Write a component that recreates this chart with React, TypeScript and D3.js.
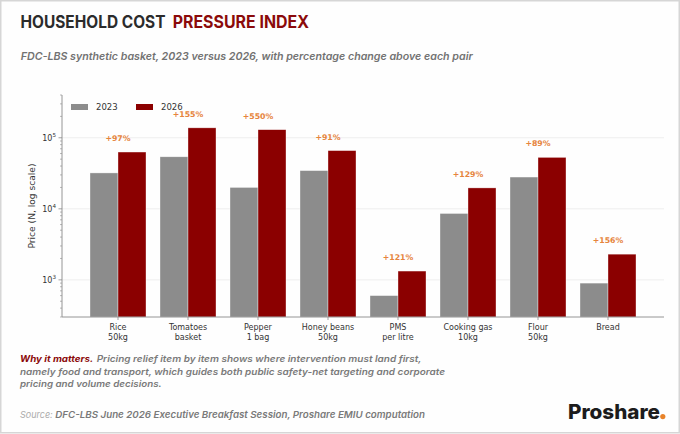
import React from "react";
import * as d3 from "d3";

const categories: string[][] = [
  ["Rice", "50kg"],
  ["Tomatoes", "basket"],
  ["Pepper", "1 bag"],
  ["Honey beans", "50kg"],
  ["PMS", "per litre"],
  ["Cooking gas", "10kg"],
  ["Flour", "50kg"],
  ["Bread"],
];
const values2023 = [32000, 54000, 20000, 34500, 600, 8600, 28000, 900];
const values2026 = [63000, 138000, 130000, 66000, 1330, 19700, 53000, 2300];
const pctLabels = ["+97%", "+155%", "+550%", "+91%", "+121%", "+129%", "+89%", "+156%"];
const seriesNames = ["2023", "2026"];
const majorTicks = [1000, 10000, 100000];
const majorExponents = ["3", "4", "5"];

const GRAY = "#8c8c8c";
const RED = "#8b0000";
const ORANGE = "#e6843c";
const CHART_FONT = "'DejaVu Sans', sans-serif";
const TEXT_FONT = "Inter, 'Open Sans', sans-serif";

export default function App() {
  const x = d3.scaleLinear().domain([-0.8, 7.8]).range([62, 664]);
  const y = d3.scaleLog().domain([300, 400000]).range([317, 95]);
  const [y0, y1] = y.domain();
  const minorTicks: number[] = [];
  for (let e = 2; e <= 5; e++) {
    for (let m = 2; m <= 9; m++) {
      const v = m * Math.pow(10, e);
      if (v >= y0 && v <= y1) minorTicks.push(v);
    }
  }
  const x0 = x.range()[0];
  const x1 = x.range()[1];
  const yb = y.range()[0];
  const yt = y.range()[1];

  return (
    <svg
      width={680}
      height={434}
      style={{ position: "absolute", left: 0, top: 0, background: "#ffffff" }}
    >
      <rect x={0.75} y={0.75} width={678.5} height={432} fill="#fefefe" stroke="#d6d6d6" strokeWidth={1.5} />

      {/* Title */}
      <text x={20.5} y={27.7} fontFamily={TEXT_FONT} fontWeight={700} fontSize={17} fill="#2b2b2b" textLength={145} lengthAdjust="spacingAndGlyphs">
        HOUSEHOLD COST
      </text>
      <text x={172.7} y={27.7} fontFamily={TEXT_FONT} fontWeight={700} fontSize={17} fill="#8b0a0a" textLength={136.3} lengthAdjust="spacingAndGlyphs">
        PRESSURE INDEX
      </text>
      <text x={20.7} y={60} fontFamily={TEXT_FONT} fontStyle="italic" fontWeight={600} fontSize={10.5} fill="#727272" textLength={452} lengthAdjust="spacingAndGlyphs">
        FDC-LBS synthetic basket, 2023 versus 2026, with percentage change above each pair
      </text>

      {/* Gridlines */}
      {majorTicks.map((t) => (
        <line key={"g" + t} x1={x0} x2={x1} y1={y(t)} y2={y(t)} stroke="#ececec" strokeWidth={0.9} />
      ))}

      {/* Bars */}
      {categories.map((c, i) => (
        <g key={"b" + i}>
          <rect
            x={x(i - 0.4)}
            y={y(values2023[i])}
            width={x(i) - x(i - 0.4)}
            height={yb - y(values2023[i])}
            fill={GRAY}
            stroke="#ffffff"
            strokeOpacity={0.6}
            strokeWidth={0.6}
          />
          <rect
            x={x(i)}
            y={y(values2026[i])}
            width={x(i + 0.4) - x(i)}
            height={yb - y(values2026[i])}
            fill={RED}
            stroke="#ffffff"
            strokeOpacity={0.6}
            strokeWidth={0.6}
          />
          <text
            x={x(i)}
            y={y(Math.max(values2023[i], values2026[i])) - 11}
            textAnchor="middle"
            fontFamily={CHART_FONT}
            fontWeight={700}
            fontSize={7.8}
            fill={ORANGE}
          >
            {pctLabels[i]}
          </text>
        </g>
      ))}

      {/* Axes */}
      <line x1={x0} x2={x0} y1={yt} y2={yb} stroke="#8a8a8a" strokeWidth={0.9} />
      <line x1={x0} x2={x1} y1={yb} y2={yb} stroke="#8a8a8a" strokeWidth={0.9} />
      {minorTicks.map((t) => (
        <line key={"m" + t} x1={x0 - 2} x2={x0} y1={y(t)} y2={y(t)} stroke="#8a8a8a" strokeWidth={0.6} />
      ))}
      {majorTicks.map((t, k) => (
        <g key={"t" + t}>
          <line x1={x0 - 3.5} x2={x0} y1={y(t)} y2={y(t)} stroke="#8a8a8a" strokeWidth={0.8} />
          <text x={x0 - 6} y={y(t) + 3} textAnchor="end" fontFamily={CHART_FONT} fontSize={8} fill="#333">
            10
            <tspan dy={-3.5} fontSize={5.6}>
              {majorExponents[k]}
            </tspan>
          </text>
        </g>
      ))}
      <text
        transform={`translate(35,${(yt + yb) / 2}) rotate(-90)`}
        textAnchor="middle"
        fontFamily={CHART_FONT}
        fontSize={9.1}
        fill="#333"
      >
        Price (N, log scale)
      </text>

      {categories.map((c, i) => (
        <g key={"x" + i}>
          <line x1={x(i)} x2={x(i)} y1={yb} y2={yb + 3} stroke="#8a8a8a" strokeWidth={0.8} />
          {c.map((line, j) => (
            <text
              key={j}
              x={x(i)}
              y={330 + j * 9.6}
              textAnchor="middle"
              fontFamily={CHART_FONT}
              fontSize={8}
              fill="#333"
            >
              {line}
            </text>
          ))}
        </g>
      ))}

      {/* Legend */}
      {seriesNames.map((s, k) => (
        <g key={"l" + s}>
          <rect x={71 + k * 65} y={104} width={17} height={6} fill={k === 0 ? GRAY : RED} />
          <text x={96 + k * 65} y={109.8} fontFamily={CHART_FONT} fontSize={8.5} fill="#333">
            {s}
          </text>
        </g>
      ))}

      {/* Why it matters */}
      <text x={20} y={362} fontFamily={TEXT_FONT} fontStyle="italic" fontWeight={700} fontSize={9} fill="#8b0a0a" textLength={73.3} lengthAdjust="spacingAndGlyphs">
        Why it matters.
      </text>
      <text x={96.7} y={362} fontFamily={TEXT_FONT} fontStyle="italic" fontWeight={600} fontSize={9} fill="#7a7a7a" textLength={324.8} lengthAdjust="spacingAndGlyphs">
        Pricing relief item by item shows where intervention must land first,
      </text>
      <text x={20} y={374.5} fontFamily={TEXT_FONT} fontStyle="italic" fontWeight={600} fontSize={9} fill="#7a7a7a" textLength={425} lengthAdjust="spacingAndGlyphs">
        namely food and transport, which guides both public safety-net targeting and corporate
      </text>
      <text x={20} y={387} fontFamily={TEXT_FONT} fontStyle="italic" fontWeight={600} fontSize={9} fill="#7a7a7a" textLength={141.7} lengthAdjust="spacingAndGlyphs">
        pricing and volume decisions.
      </text>

      {/* Source */}
      <text x={20} y={417.5} fontFamily={TEXT_FONT} fontStyle="italic" fontWeight={400} fontSize={9.5} fill="#ababab" textLength={32.7} lengthAdjust="spacingAndGlyphs">
        Source:
      </text>
      <text x={55.3} y={417.5} fontFamily={TEXT_FONT} fontStyle="italic" fontWeight={600} fontSize={9.5} fill="#7a7a7a" textLength={369.7} lengthAdjust="spacingAndGlyphs">
        DFC-LBS June 2026 Executive Breakfast Session, Proshare EMIU computation
      </text>

      {/* Logo */}
      <text x={568} y={418.7} fontFamily={TEXT_FONT} fontWeight={800} fontSize={20} fill="#1c1c1c" textLength={92} lengthAdjust="spacingAndGlyphs">
        Proshare
      </text>
      <circle cx={662.8} cy={416.6} r={2.6} fill="#e8832a" />
    </svg>
  );
}
